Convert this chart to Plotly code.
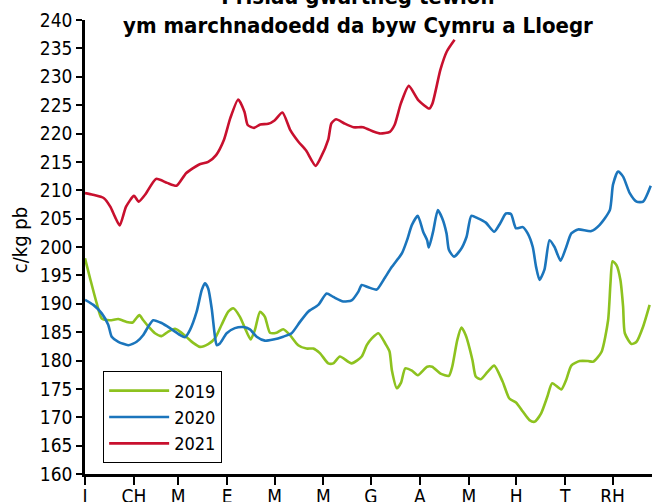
import plotly.graph_objects as go

# Day of year (0 = 1 January) and price in c/kg pb
days_2019 = [0, 3.2, 7.4, 10.6, 15.8, 21.1, 26.4, 30.2, 32.3, 34.4, 36.9, 40.1, 44.3, 48.5, 52.7, 57.0, 60.1, 64.4,
             68.5, 72.8, 78.0, 82.3, 86.5, 90.7, 93.9, 98.1, 101.3, 104.9, 107.6, 110.8, 113.9, 117.1, 121.3, 125.5,
             129.7, 135.0, 140.3, 144.5, 148.7, 154.0, 157.2, 161.4, 168.8, 175.2, 178.4, 181.6, 185.8, 190.1, 192.8,
             194.3, 197.5, 200.1, 202.8, 207.0, 210.7, 216.6, 219.8, 225.1, 230.4, 232.5, 235.7, 238.3, 241.0, 245.3,
             247.4, 250.6, 254.9, 259.1, 264.4, 268.7, 272.9, 277.2, 281.4, 284.6, 288.8, 292.7, 295.8, 301.6, 304.7,
             307.9, 313.2, 318.5, 321.8, 327.0, 331.2, 332.7, 334.0, 336.5, 339.0, 340.7, 341.8, 346.0, 349.2, 353.4,
             357.5]
vals_2019 = [198.0, 194.5, 190.1, 187.4, 187.1, 187.3, 186.8, 186.7, 187.4, 188.0, 187.1, 186.0, 184.8, 184.3, 185.1,
             185.6, 185.1, 184.1, 183.1, 182.4, 182.9, 183.9, 186.3, 188.6, 189.2, 187.7, 185.7, 183.7, 185.4, 188.6,
             187.7, 184.9, 184.9, 185.5, 184.5, 182.7, 182.1, 182.1, 181.3, 179.5, 179.5, 180.7, 179.5, 180.7, 182.7,
             183.9, 184.8, 183.0, 181.6, 178.3, 175.1, 176.1, 178.6, 178.2, 177.4, 178.9, 178.9, 177.7, 177.3, 178.9,
             183.6, 185.8, 184.5, 180.1, 177.2, 176.7, 178.0, 179.1, 176.3, 173.3, 172.6, 171.0, 169.5, 169.2, 170.7,
             173.6, 176.0, 174.9, 176.6, 179.1, 179.9, 179.9, 179.8, 181.5, 187.1, 193.6, 197.5, 196.8, 194.2, 189.5,
             184.8, 182.9, 183.3, 186.0, 189.8]

days_2020 = [0, 5.3, 10.6, 14.7, 16.9, 21.1, 27.4, 32.7, 36.9, 40.1, 43.2, 48.5, 53.8, 60.1, 63.3, 66.5, 70.7, 73.9,
             75.9, 78.0, 80.2, 82.3, 83.4, 85.4, 89.7, 94.9, 100.2, 104.4, 108.7, 113.9, 119.2, 125.5, 130.8, 136.1,
             141.3, 147.7, 153.0, 157.2, 163.5, 168.8, 173.0, 175.2, 179.4, 184.7, 189.0, 194.3, 200.7, 203.9, 207.0,
             210.7, 214.1, 216.6, 217.7, 220.4, 223.4, 226.1, 228.9, 230.4, 233.6, 237.8, 241.6, 244.6, 248.5, 253.8,
             259.1, 262.9, 266.5, 269.7, 272.9, 277.2, 280.3, 283.5, 285.6, 287.8, 290.9, 294.1, 297.3, 301.1, 304.7,
             307.9, 312.2, 320.6, 325.9, 332.3, 334.3, 337.5, 340.7, 344.9, 349.2, 353.4, 358.2]
vals_2020 = [190.7, 189.8, 188.3, 186.3, 184.2, 183.3, 182.7, 183.3, 184.5, 186.0, 187.1, 186.6, 185.7, 184.5, 184.1,
             185.4, 188.6, 192.4, 193.6, 192.7, 189.2, 184.2, 182.7, 183.0, 184.8, 185.7, 185.9, 185.5, 184.2, 183.5,
             183.7, 184.2, 184.8, 186.8, 188.6, 189.8, 191.8, 191.2, 190.4, 190.6, 192.1, 193.3, 192.9, 192.5, 194.2,
             196.5, 198.9, 201.2, 203.9, 205.5, 202.7, 201.2, 199.9, 202.7, 206.5, 205.1, 202.4, 199.5, 198.3, 199.5,
             201.8, 205.5, 205.1, 204.3, 202.7, 204.2, 205.9, 205.8, 203.3, 203.5, 202.4, 200.0, 196.5, 194.2, 196.0,
             201.2, 200.0, 197.6, 200.0, 202.4, 203.1, 202.8, 203.9, 206.5, 211.0, 213.3, 212.4, 209.5, 208.0, 208.0,
             210.8]

days_2021 = [0, 5, 12, 16, 19, 22, 26, 31, 34, 38, 45, 52, 58, 64, 72, 78, 83, 88, 92, 97, 101, 103, 107, 111, 116,
             120, 125, 130, 135, 140, 146, 149, 154, 156, 159, 164, 170, 176, 183, 187, 193, 196, 200, 205, 211, 218,
             220, 225, 229, 234]
vals_2021 = [209.5, 209.2, 208.6, 207.1, 205.3, 203.8, 207.1, 209.0, 208.0, 209.2, 212.0, 211.3, 210.8, 213.0, 214.5,
             215.0, 216.2, 218.9, 222.7, 226.0, 223.8, 221.5, 221.0, 221.6, 221.7, 222.3, 223.7, 220.6, 218.6, 217.0,
             214.3, 215.6, 218.9, 221.8, 222.5, 221.8, 221.1, 221.1, 220.3, 220.0, 220.3, 221.5, 225.3, 228.4, 225.9,
             224.4, 225.3, 231.2, 234.4, 236.5]

month_starts = [0, 31, 59, 90, 120, 151, 181, 212, 243, 273, 304, 334]
month_labels = ["I", "CH", "M", "E", "M", "M", "G", "A", "M", "H", "T", "RH"]

title_line1 = "Prisiau gwartheg tewion"
title_line2 = "ym marchnadoedd da byw Cymru a Lloegr"
y_title = "c/kg pb"

FONT = "DejaVu Sans Condensed, DejaVu Sans, sans-serif"

series = [
    ("2019", days_2019, vals_2019, "#8dc21f"),
    ("2020", days_2020, vals_2020, "#1b75bc"),
    ("2021", days_2021, vals_2021, "#c8102e"),
]

fig = go.Figure()
for name, xs, ys, col in series:
    fig.add_trace(go.Scatter(x=xs, y=ys, name=name, mode="lines",
                             line=dict(color=col, width=2.6, shape="spline", smoothing=0.6)))

fig.update_layout(
    width=652, height=502,
    margin=dict(l=85, r=0, t=20, b=28, autoexpand=False),
    paper_bgcolor="white", plot_bgcolor="white",
    font=dict(family=FONT, size=20, color="black"),
    showlegend=True,
    legend=dict(x=0.032, y=0.226, xanchor="left", yanchor="top",
                bordercolor="black", borderwidth=1, bgcolor="white",
                font=dict(size=18), tracegroupgap=0, itemwidth=60),
    xaxis=dict(range=[0, 359], tickvals=month_starts, ticktext=month_labels,
               showline=True, linecolor="black", linewidth=2.5, automargin=False,
               ticks="outside", ticklen=8, tickwidth=2, tickcolor="black",
               ticklabelstandoff=-5,
               showgrid=False, zeroline=False, tickfont=dict(size=19)),
    yaxis=dict(range=[160, 240], dtick=5, tick0=160, automargin=False,
               showline=True, linecolor="black", linewidth=2.5,
               ticks="outside", ticklen=6, tickwidth=2, tickcolor="black",
               showgrid=False, zeroline=False, tickfont=dict(size=19)),
    annotations=[
        dict(text="<b>" + title_line1 + "<br>" + title_line2 + "</b>",
             xref="paper", yref="paper", x=(358 - 85) / 567, y=0.956,
             xanchor="center", yanchor="bottom", showarrow=False,
             font=dict(size=22, family=FONT)),
        dict(text=y_title, xref="paper", yref="paper", x=(20 - 85) / 567, y=0.515,
             xanchor="center", yanchor="middle", textangle=-90, showarrow=False,
             font=dict(size=20, family=FONT)),
    ],
)

fig.write_html("out.html", config={"displayModeBar": False},
               post_script="document.body.style.margin='0';document.body.style.overflow='hidden';")
